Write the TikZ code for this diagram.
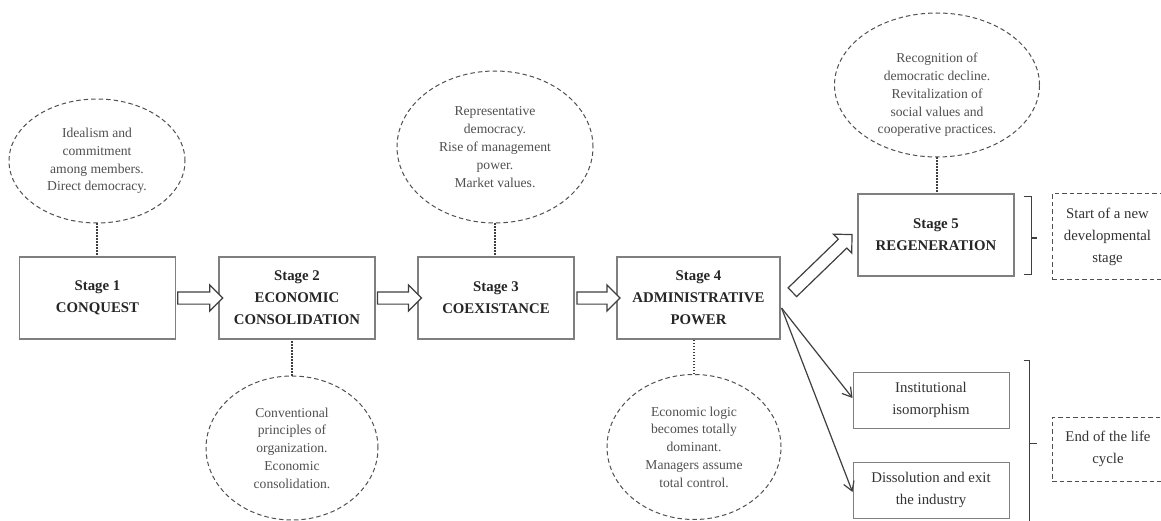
\documentclass[tikz,border=0pt]{standalone}
\usepackage{fontspec}
\setmainfont{Liberation Serif}
\usepackage{tikz}
\usetikzlibrary{shapes.geometric, shapes.arrows, arrows.meta, calc}
\definecolor{boxgray}{HTML}{7F7F7F}
\definecolor{notegray}{HTML}{505050}
\definecolor{linegray}{HTML}{3F3F3F}
\newcommand{\stagefont}{\fontsize{14.8}{22}\selectfont\bfseries}
\newcommand{\notefont}{\fontsize{13.6}{17.8}\selectfont}
\newcommand{\plainfont}{\fontsize{14.8}{22}\selectfont}
\tikzset{
    stagebox/.style={draw=boxgray, line width=1.1pt, minimum width=156pt, minimum height=82pt,
        align=center, font=\stagefont, text=black!85, inner sep=0pt},
    note/.style={ellipse, draw=notegray, line width=1pt, dash pattern=on 4.5pt off 3pt,
        align=center, font=\notefont, text=notegray, inner sep=0pt},
    notetext/.style={align=center, font=\notefont, text=notegray, inner sep=0pt},
    outcome/.style={draw=boxgray, line width=1pt, minimum width=156pt, minimum height=56pt,
        align=center, font=\plainfont, text=black!80, inner sep=0pt},
    sidebox/.style={draw=notegray, line width=1pt, dash pattern=on 4.5pt off 3pt,
        align=center, font=\plainfont, text=black!80, inner sep=0pt},
    link/.style={linegray, line width=2.2pt, dash pattern=on 1.5pt off 1.5pt},
    bigarrow/.style={single arrow, draw=linegray, line width=1.2pt, fill=white,
        text height=5.5pt, text depth=5.5pt, inner sep=0pt,
        single arrow head extend=7pt, single arrow tip angle=90},
    branch/.style={linegray, line width=1.2pt, -{Straight Barb[length=9pt, width=11pt]}},
    bracketline/.style={linegray, line width=1.2pt}
}

\begin{document}
\begin{tikzpicture}[x=1pt, y=-1pt]
                \path[use as bounding box, fill=white] (0,0) rectangle (1161,521);

                \node[stagebox] (s1) at (97.5,298) {Stage 1\\CONQUEST};
                \node[stagebox] (s2) at (297,298) {Stage 2\\ECONOMIC\\CONSOLIDATION};
                \node[stagebox] (s3) at (496,298) {Stage 3\\COEXISTANCE};
                \node[stagebox, minimum width=163pt] (s4) at (698.5,298) {Stage 4\\ADMINISTRATIVE\\POWER};
                \node[stagebox] (s5) at (936,235) {Stage 5\\REGENERATION};

                \node[note, minimum width=176pt, minimum height=124pt] (e1) at (97,161)
                    {Idealism and\\commitment\\among members.\\Direct democracy.};
                \node[note, minimum width=172pt, minimum height=144pt] (e2) at (292,448)
                    {Conventional\\principles of\\organization.\\Economic\\consolidation.};
                \node[note, minimum width=196pt, minimum height=152pt] (e3) at (495,147)
                    {Representative\\democracy.\\Rise of management\\power.\\Market values.};
                \node[note, minimum width=174pt, minimum height=145pt] (e4) at (694,447)
                    {Economic logic\\becomes totally\\dominant.\\Managers assume\\total control.};
                \node[note, minimum width=205pt, minimum height=144pt] (e5) at (937,85) {};
                \node[notetext] (e5t) at ($(e5.center)+(0,10)$)
                    {Recognition of\\democratic decline.\\Revitalization of\\social values and\\cooperative practices.};

                \node[outcome] (o1) at (931,400) {Institutional\\isomorphism};
                \node[outcome] (o2) at (931,490) {Dissolution and exit\\the industry};

                \node[sidebox, minimum width=111pt, minimum height=85pt] (n1) at (1107.5,236.5)
                    {Start of a new\\developmental\\stage};
                \node[sidebox, minimum width=112pt, minimum height=64pt] (n2) at (1108,449)
                    {End of the life\\cycle};

                \draw[link] (e1.south) -- (e1.south |- s1.north);
                \draw[link] (e2.north) -- (e2.north |- s2.south);
                \draw[link] (e3.south) -- (e3.south |- s3.north);
                \draw[link] (e4.north) -- (e4.north |- s4.south);
                \draw[link] (e5.south) -- (e5.south |- s5.north);

                \path (s1) -- node[bigarrow, sloped, minimum height=45pt] (a12) {} (s2);
                \path (s2) -- node[bigarrow, sloped, minimum height=44pt] (a23) {} (s3);
                \path (s3) -- node[bigarrow, sloped, minimum height=43pt] (a34) {} (s4);

                \coordinate (d4) at ($(s4.east)+(10,-4)$);
                \coordinate (d5) at ($(s5.west)+(-8,2)$);
                \path (d4) -- node[bigarrow, sloped, minimum height=83pt] (a45) {} (d5);

                \coordinate (b4) at ($(s4.east)+(1,10)$);
                \draw[branch] (b4) -- ($(o1.west)+(0,-2)$);
                \draw[branch] (b4) -- ($(o2.west)+(0,2)$);

                \draw[bracketline] ($(s5.north east)+(9,3)$) -- ++(8,0) -- ++(0,78) -- ++(-8,0);
                \draw[bracketline] ($(s5.east)+(17,3)$) -- ++(5,0);
                \draw[bracketline] ($(o1.north east)+(14,-11)$) -- ++(6,0) -- ++(0,166) -- ++(-6,0);
                \draw[bracketline] ($(o1.north east)+(20,72)$) -- ++(7,0);
\end{tikzpicture}
\end{document}
